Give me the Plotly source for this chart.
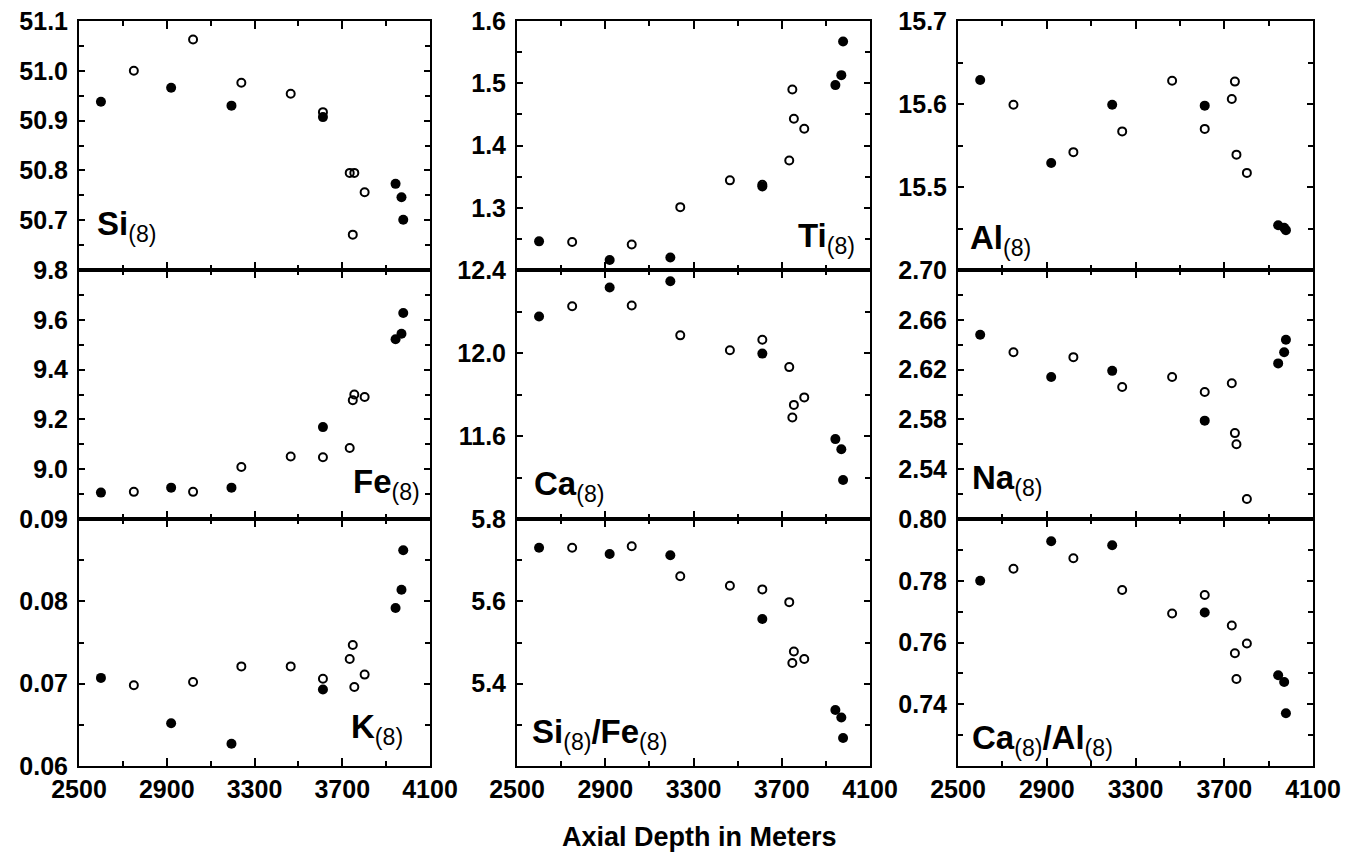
import plotly.graph_objects as go
from plotly.subplots import make_subplots

# the page body adds an 8px margin, so the figure is 8px smaller and shifted
OFF = 8
W, H = 1349 - OFF, 864 - OFF

# sample depths (m) and whether the point is drawn filled
depth = [2600, 2750, 2920, 3020, 3195, 3240, 3465, 3612, 3612, 3734, 3748, 3755, 3802, 3943, 3970, 3978]
filled = [1, 0, 1, 0, 1, 0, 0, 1, 0, 0, 0, 0, 0, 1, 1, 1]

si8 = [50.938, 51.000, 50.966, 51.063, 50.930, 50.976, 50.954, 50.907, 50.917, 50.795, 50.671, 50.795, 50.756, 50.773, 50.746, 50.701]
fe8 = [8.906, 8.909, 8.926, 8.909, 8.926, 9.009, 9.051, 9.169, 9.048, 9.085, 9.277, 9.300, 9.290, 9.522, 9.544, 9.627]
k8 = [0.0707, 0.0698, 0.0652, 0.0702, 0.0627, 0.0721, 0.0721, 0.0693, 0.0706, 0.0730, 0.0747, 0.0696, 0.0711, 0.0792, 0.0814, 0.0862]
ti8 = [1.246, 1.245, 1.216, 1.241, 1.220, 1.301, 1.344, 1.334, 1.337, 1.376, 1.490, 1.443, 1.427, 1.497, 1.513, 1.567]
ca8 = [12.176, 12.225, 12.316, 12.229, 12.346, 12.085, 12.013, 11.997, 12.064, 11.932, 11.689, 11.750, 11.786, 11.585, 11.536, 11.388]
si_fe = [5.730, 5.730, 5.715, 5.734, 5.712, 5.661, 5.638, 5.557, 5.629, 5.598, 5.450, 5.478, 5.460, 5.336, 5.318, 5.268]
al8 = [15.629, 15.599, 15.529, 15.542, 15.599, 15.567, 15.628, 15.598, 15.570, 15.606, 15.627, 15.539, 15.517, 15.454, 15.451, 15.448]
na8 = [2.648, 2.634, 2.614, 2.630, 2.619, 2.606, 2.614, 2.579, 2.602, 2.609, 2.569, 2.560, 2.516, 2.625, 2.634, 2.644]
ca_al = [0.7800, 0.7839, 0.7928, 0.7873, 0.7915, 0.7770, 0.7694, 0.7697, 0.7754, 0.7655, 0.7565, 0.7482, 0.7597, 0.7494, 0.7472, 0.7371]

x_ticks = [2500, 2900, 3300, 3700, 4100]

# row, col, values, y range, tick labels, format, minor step, label
panels = [
    (1, 1, si8, [50.6, 51.1], [50.7, 50.8, 50.9, 51.0, 51.1], ".1f", 0.05, "<b>Si</b><sub>(8)</sub>"),
    (2, 1, fe8, [8.8, 9.8], [9.0, 9.2, 9.4, 9.6, 9.8], ".1f", 0.1, "<b>Fe</b><sub>(8)</sub>"),
    (3, 1, k8, [0.06, 0.09], [0.06, 0.07, 0.08, 0.09], ".2f", 0.005, "<b>K</b><sub>(8)</sub>"),
    (1, 2, ti8, [1.2, 1.6], [1.3, 1.4, 1.5, 1.6], ".1f", 0.05, "<b>Ti</b><sub>(8)</sub>"),
    (2, 2, ca8, [11.2, 12.4], [11.6, 12.0, 12.4], ".1f", 0.2, "<b>Ca</b><sub>(8)</sub>"),
    (3, 2, si_fe, [5.2, 5.8], [5.4, 5.6, 5.8], ".1f", 0.1, "<b>Si</b><sub>(8)</sub><b>/Fe</b><sub>(8)</sub>"),
    (1, 3, al8, [15.4, 15.7], [15.5, 15.6, 15.7], ".1f", 0.05, "<b>Al</b><sub>(8)</sub>"),
    (2, 3, na8, [2.50, 2.70], [2.54, 2.58, 2.62, 2.66, 2.70], ".2f", 0.02, "<b>Na</b><sub>(8)</sub>"),
    (3, 3, ca_al, [0.72, 0.80], [0.74, 0.76, 0.78, 0.80], ".2f", 0.01, "<b>Ca</b><sub>(8)</sub><b>/Al</b><sub>(8)</sub>"),
]

# label placement in page pixels: (x, y, anchor)
label_pos = {
    (1, 1): (95, 226, "left"), (2, 1): (422, 484, "right"), (3, 1): (405, 729, "right"),
    (1, 2): (857, 238, "right"), (2, 2): (532, 486, "left"), (3, 2): (530, 734, "left"),
    (1, 3): (968, 240, "left"), (2, 3): (970, 480, "left"), (3, 3): (970, 740, "left"),
}

col_px = {1: (79, 430), 2: (517, 870), 3: (958, 1313)}
row_px = {1: (21, 270), 2: (270, 519), 3: (519, 766)}


def fx(px):
    return (px - OFF) / W


def fy(py):
    return 1 - (py - OFF) / H


tick_font = dict(family="Liberation Sans", size=25, color="black", weight="bold")

fig = make_subplots(rows=3, cols=3)

for r, c, vals, yr, yt, fmt, ystep, label in panels:
    xo = [d for d, f in zip(depth, filled) if not f]
    yo = [v for v, f in zip(vals, filled) if not f]
    xf = [d for d, f in zip(depth, filled) if f]
    yf = [v for v, f in zip(vals, filled) if f]
    fig.add_trace(go.Scatter(x=xo, y=yo, mode="markers", showlegend=False,
                             marker=dict(symbol="circle-open", size=8, color="black",
                                         line=dict(width=2, color="black"))), row=r, col=c)
    fig.add_trace(go.Scatter(x=xf, y=yf, mode="markers", showlegend=False,
                             marker=dict(symbol="circle", size=10, color="black")), row=r, col=c)

    x0, x1 = col_px[c]
    y0, y1 = row_px[r]
    fig.update_xaxes(dict(
        domain=[fx(x0), fx(x1)], range=[2500, 4100], tickvals=x_ticks,
        showticklabels=(r == 3), tickfont=tick_font, automargin=False,
        ticklabeloverflow="allow",
        ticks="inside", ticklen=8, tickwidth=2, tickcolor="black",
        minor=dict(tick0=2500, dtick=200, ticks="inside", ticklen=5, tickwidth=1.5, tickcolor="black"),
        showline=True, linewidth=2, linecolor="black", mirror="allticks",
        showgrid=False, zeroline=False
    ), row=r, col=c)
    fig.update_yaxes(dict(
        domain=[fy(y1), fy(y0)], range=yr, tickvals=yt, tickformat=fmt,
        tickfont=tick_font, ticklabelstandoff=4, automargin=False,
        ticklabeloverflow="allow",
        ticks="inside", ticklen=6, tickwidth=2, tickcolor="black",
        minor=dict(tick0=yr[0], dtick=ystep, ticks="inside", ticklen=5, tickwidth=1.5, tickcolor="black"),
        showline=True, linewidth=2, linecolor="black", mirror="allticks",
        showgrid=False, zeroline=False
    ), row=r, col=c)

    lx, ly, anchor = label_pos[(r, c)]
    fig.add_annotation(text=label, xref="paper", yref="paper", x=fx(lx), y=fy(ly),
                       xanchor=anchor, yanchor="middle", showarrow=False,
                       font=dict(family="Liberation Sans", size=33, color="black"))

fig.add_annotation(text="<b>Axial Depth in Meters</b>", xref="paper", yref="paper",
                   x=fx(700), y=fy(837), xanchor="center", yanchor="middle", showarrow=False,
                   font=dict(family="Liberation Sans", size=27, color="black"))

fig.update_layout(
    width=W, height=H,
    margin=dict(l=0, r=0, t=0, b=0),
    plot_bgcolor="white", paper_bgcolor="white",
)

fig.write_html("out.html")
